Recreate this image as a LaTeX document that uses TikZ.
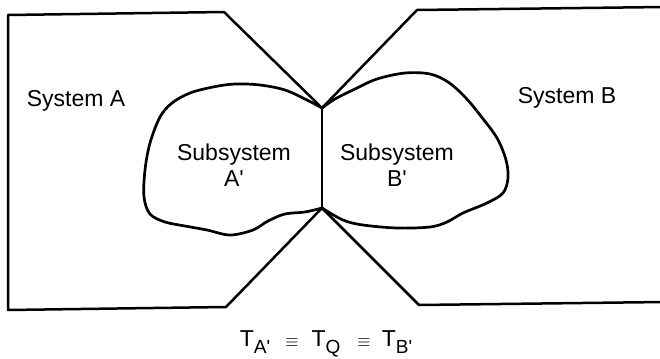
\documentclass[tikz,border=0pt]{standalone}
\usepackage{fontspec}
\setmainfont{Liberation Sans}
\newcommand\qs{\textquotesingle}
\newcommand\lowsub[1]{\raisebox{-3.8pt}{\fontsize{9.5}{10}\selectfont #1}}
\begin{document}
\begin{tikzpicture}[x=0.5pt,y=-0.5pt,
  wall/.style={line width=1.25pt,line join=round,line cap=round},
  blob/.style={line width=1.35pt,line join=round},
  lbl/.style={font=\fontsize{11.5}{13}\selectfont,align=center,inner sep=0pt},
  eqv/.style={font=\fontsize{11.5}{13}\selectfont,inner sep=0pt,anchor=base}]
\useasboundingbox (0,0) rectangle (660,359);
% key points
\coordinate (pt) at (322,108);
\coordinate (pb) at (322,208);
\coordinate (a1) at (8,15);
\coordinate (a2) at (224,12);
\coordinate (a3) at (226,307);
\coordinate (a4) at (8,310);
\coordinate (b1) at (417,10);
\coordinate (b2) at (664,7);
\coordinate (b3) at (419,305);
\coordinate (b4) at (664,302);
% System A outline
\draw[wall] (pt) -- (a2) -- (a1) -- (a4) -- (a3) -- (pb);
% System B outline
\draw[wall] (b2) -- (b1) -- (pt);
\draw[wall] (b4) -- (b3) -- (pb);
% common wall
\draw[wall] (pt) -- (pb);
% Subsystem A'
\draw[blob] plot[smooth,tension=0.55] coordinates {(322,108) (307,100) (285,90) (260,85) (235,84) (213,87) (190,93) (172,103) (160,117) (150,143) (145,170) (144,197) (150,214) (165,222) (185,226) (207,230) (230,235) (253,230) (268,221) (285,214) (305,212) (322,208)};
% Subsystem B'
\draw[blob] plot[smooth,tension=0.55] coordinates {(322,108) (335,99) (355,89) (377,79) (405,73) (430,74) (448,82) (465,97) (480,115) (497,138) (506,160) (508,178) (503,193) (487,203) (463,213) (447,222) (430,227) (397,228) (363,225) (343,220) (322,208)};
% labels
\node[lbl] (sysA) at (76,101) {System A};
\node[lbl] (sysB) at (567,98) {System B};
\node[lbl] (subA) at (234,165) {Subsystem\\A\qs};
\node[lbl] (subB) at (397,165) {Subsystem\\B\qs};
% equation
\node[eqv] (ta) at (255,346) {T\lowsub{A\qs}};
\node[eqv] (e1) at (292,346) {\fontsize{8}{8}\selectfont$\equiv$};
\node[eqv] (tq) at (326,346) {T\lowsub{Q}};
\node[eqv] (e2) at (364,346) {\fontsize{8}{8}\selectfont$\equiv$};
\node[eqv] (tb) at (397,346) {T\lowsub{B\qs}};
\end{tikzpicture}
\end{document}
